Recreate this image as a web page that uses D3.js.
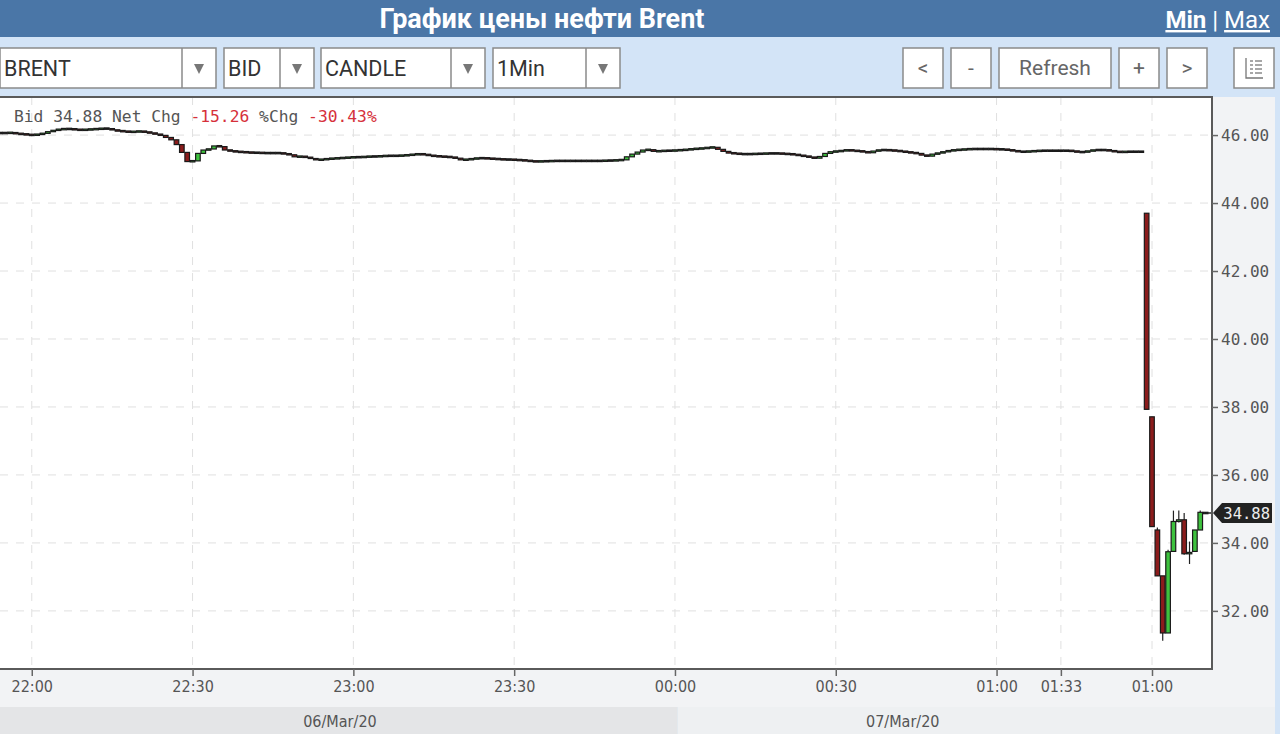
<!DOCTYPE html>
<html><head><meta charset="utf-8">
<script src="https://cdn.jsdelivr.net/npm/d3@7"></script>
<style>
html,body{margin:0;padding:0;overflow:hidden;background:#fff}
svg{display:block}
</style>
</head><body>
<svg id="c" width="1280" height="734"></svg>
<script>
// ---------------- DATA ----------------
const title = "График цены нефти Brent";
const symbol = "BRENT";
const priceType = "BID";
const chartType = "CANDLE";
const interval = "1Min";
const bidValue = "34.88";
const netChange = "-15.26";
const pctChange = "-30.43%";

// 1-minute closes of the session before the gap (candle index 0..213)
const sessionCloses = [
  46.06,46.06,46.07,46.04,46.03,46.01,46.00,46.02,46.05,46.10,
  46.14,46.17,46.18,46.18,46.16,46.15,46.16,46.17,46.18,46.19,
  46.19,46.15,46.12,46.11,46.09,46.10,46.11,46.09,46.06,46.03,
  45.99,45.93,45.86,45.72,45.49,45.22,45.24,45.46,45.56,45.59,
  45.68,45.66,45.56,45.53,45.51,45.50,45.49,45.48,45.48,45.47,
  45.47,45.47,45.47,45.45,45.42,45.36,45.37,45.35,45.31,45.27,
  45.28,45.30,45.31,45.32,45.33,45.34,45.35,45.35,45.36,45.37,
  45.37,45.38,45.39,45.39,45.39,45.40,45.41,45.43,45.44,45.43,
  45.40,45.38,45.37,45.36,45.35,45.32,45.27,45.28,45.30,45.32,
  45.32,45.31,45.30,45.29,45.28,45.28,45.27,45.26,45.25,45.23,
  45.22,45.23,45.23,45.24,45.24,45.24,45.24,45.24,45.24,45.24,
  45.24,45.24,45.24,45.25,45.25,45.26,45.27,45.36,45.44,45.50,
  45.56,45.57,45.52,45.53,45.54,45.54,45.55,45.56,45.57,45.59,
  45.60,45.61,45.63,45.64,45.58,45.52,45.47,45.46,45.44,45.44,
  45.44,45.45,45.45,45.46,45.46,45.46,45.45,45.44,45.43,45.40,
  45.38,45.35,45.32,45.37,45.46,45.51,45.52,45.54,45.56,45.54,
  45.53,45.51,45.48,45.53,45.56,45.56,45.55,45.54,45.52,45.50,
  45.48,45.46,45.41,45.38,45.44,45.47,45.51,45.54,45.56,45.57,
  45.58,45.59,45.59,45.59,45.59,45.59,45.58,45.58,45.56,45.54,
  45.51,45.51,45.52,45.53,45.54,45.54,45.54,45.54,45.54,45.54,
  45.53,45.50,45.50,45.53,45.56,45.56,45.56,45.54,45.51,45.50,
  45.51,45.51,45.51,45.51
];

// candles after the gap (index 214..225)
const gapOpen  = [43.70,37.71,34.38,33.03,31.35,33.75,34.63,34.68,33.68,33.75,34.38,34.88];
const gapHigh  = [43.70,37.71,34.45,33.03,33.80,34.95,34.95,34.88,34.04,34.38,34.95,34.90];
const gapLow   = [37.93,34.48,33.03,31.12,31.35,33.75,34.60,33.65,33.38,33.75,34.38,34.86];
const gapClose = [37.93,34.48,33.03,31.35,33.74,34.63,34.68,33.68,33.72,34.38,34.90,34.88];

const lastPrice = 34.88;

const yTickValues = [32, 34, 36, 38, 40, 42, 44, 46];
const xTickIndex  = [6, 36, 66, 96, 126, 156, 186, 198, 215];
const xTickLabels = ["22:00","22:30","23:00","23:30","00:00","00:30","01:00","01:33","01:00"];
const dateLabels  = ["06/Mar/20", "07/Mar/20"];
const dateStartIndex = [-200, 126.5];
const dateLabelIndex = [63.5, 168.5];

const buttonLabels = ["<", "-", "Refresh", "+", ">"];

// ---------------- LAYOUT ----------------
const W = 1280, H = 734;
const headerH = 37;
const plot = {left: 0, right: 1212, top: 97, bottom: 669};
const axisPanelRight = 1275;
const xAxisBottom = 707;

const svg = d3.select("#c");

// background pieces
svg.append("rect").attr("x",0).attr("y",0).attr("width",W).attr("height",H).attr("fill","#d3e4f7");
svg.append("rect").attr("x",0).attr("y",0).attr("width",W).attr("height",headerH).attr("fill","#4a76a7");

// header title
svg.append("text").attr("x",542).attr("y",28).attr("text-anchor","middle")
  .attr("font-family","Roboto, 'Noto Sans', sans-serif").attr("font-weight","700")
  .attr("font-size",27).attr("fill","#fff").text(title);

// Min | Max
const mm = svg.append("text").attr("x",1270).attr("y",28).attr("text-anchor","end")
  .attr("font-family","Roboto, 'Noto Sans', sans-serif").attr("font-size",24).attr("fill","#fff");
mm.append("tspan").attr("font-weight","700").attr("text-decoration","underline").text("Min");
mm.append("tspan").attr("dx",6).text("|");
mm.append("tspan").attr("dx",6).attr("text-decoration","underline").text("Max");

// dropdowns
const dropdowns = [
  {label: symbol,    x: 0,   w: 216, div: 182},
  {label: priceType, x: 224, w: 90,  div: 280},
  {label: chartType, x: 321, w: 164, div: 451},
  {label: interval,  x: 493, w: 127, div: 586}
];
const ddG = svg.selectAll("g.dd").data(dropdowns).join("g").attr("class","dd");
ddG.append("rect").attr("x",d=>d.x).attr("y",48).attr("width",d=>d.w).attr("height",40)
  .attr("fill","#fff").attr("stroke","#8a8a8a").attr("stroke-width",1.5);
ddG.append("line").attr("x1",d=>d.div).attr("x2",d=>d.div).attr("y1",48).attr("y2",88)
  .attr("stroke","#8a8a8a").attr("stroke-width",1.5);
ddG.append("text").attr("x",d=>d.x+4).attr("y",76)
  .attr("font-family","Roboto, 'Noto Sans', sans-serif").attr("font-size",21.5).attr("fill","#333")
  .text(d=>d.label);
ddG.append("path").attr("d",d=>{const cx=(d.div+d.x+d.w)/2, cy=69; return `M${cx-5},${cy-5}L${cx+5},${cy-5}L${cx},${cy+5}Z`;})
  .attr("fill","#777");

// buttons
const btnBoxes = [
  {x: 903, w: 40}, {x: 951, w: 40}, {x: 999, w: 112}, {x: 1119, w: 40}, {x: 1167, w: 40}
];
const bG = svg.selectAll("g.btn").data(buttonLabels).join("g").attr("class","btn");
bG.append("rect").attr("x",(d,i)=>btnBoxes[i].x).attr("y",48).attr("width",(d,i)=>btnBoxes[i].w).attr("height",40)
  .attr("fill","#fff").attr("stroke","#8a8a8a").attr("stroke-width",1.5);
bG.append("text").attr("x",(d,i)=>btnBoxes[i].x+btnBoxes[i].w/2).attr("y",75).attr("text-anchor","middle")
  .attr("font-family","Roboto, 'Noto Sans', sans-serif").attr("font-size",21).attr("fill","#666")
  .text(d=>d);

// icon button
svg.append("rect").attr("x",1234).attr("y",48).attr("width",40).attr("height",40)
  .attr("fill","#fff").attr("stroke","#8a8a8a").attr("stroke-width",1.5);
const ic = svg.append("g").attr("stroke","#777").attr("stroke-width",1.3).attr("fill","none");
ic.append("path").attr("d","M1246,58V78H1263");
[61,65,69,73].forEach(yy=>{
  ic.append("line").attr("x1",1250).attr("x2",1253).attr("y1",yy).attr("y2",yy);
  ic.append("line").attr("x1",1255).attr("x2",1262).attr("y1",yy).attr("y2",yy);
});

// axis panel backgrounds
svg.append("rect").attr("x",0).attr("y",plot.top).attr("width",axisPanelRight).attr("height",xAxisBottom-plot.top).attr("fill","#f2f3f5");
svg.append("rect").attr("x",plot.left).attr("y",plot.top).attr("width",plot.right-plot.left).attr("height",plot.bottom-plot.top).attr("fill","#fff");

// scales
const x = d3.scaleLinear().domain([0, 225]).range([-0.4, 1205.6]);
const y = d3.scaleLinear().domain([30.29, 47.12]).range([plot.bottom, plot.top]);

// date bar
const dateBars = dateLabels.map((d,i)=>({
  label: d,
  x0: Math.max(0, x(dateStartIndex[i])),
  x1: i+1 < dateLabels.length ? x(dateStartIndex[i+1]) : axisPanelRight,
  cx: x(dateLabelIndex[i])
}));
svg.selectAll("rect.db").data(dateBars).join("rect").attr("class","db")
  .attr("x",d=>d.x0).attr("y",xAxisBottom).attr("width",d=>d.x1-d.x0).attr("height",H-xAxisBottom)
  .attr("fill",(d,i)=> i===0 ? "#e4e5e7" : "#eef0f2");
svg.selectAll("text.db").data(dateBars).join("text").attr("class","db")
  .attr("x",d=>d.cx).attr("y",727).attr("text-anchor","middle")
  .attr("font-family","'DejaVu Sans Condensed', 'DejaVu Sans', sans-serif").attr("font-stretch","condensed")
  .attr("font-size",16).attr("fill","#555").text(d=>d.label);

// clip
svg.append("clipPath").attr("id","pc").append("rect")
  .attr("x",plot.left).attr("y",plot.top).attr("width",plot.right-plot.left).attr("height",plot.bottom-plot.top);
const pg = svg.append("g").attr("clip-path","url(#pc)");

// grid
pg.selectAll("line.hg").data(yTickValues).join("line").attr("class","hg")
  .attr("x1",plot.left).attr("x2",plot.right).attr("y1",d=>y(d)).attr("y2",d=>y(d))
  .attr("stroke","#e0e0e0").attr("stroke-dasharray","8,8");
pg.selectAll("line.vg").data(xTickIndex).join("line").attr("class","vg")
  .attr("x1",d=>x(d)).attr("x2",d=>x(d)).attr("y1",plot.top).attr("y2",plot.bottom)
  .attr("stroke","#e0e0e0").attr("stroke-dasharray","8,8");

// candles
const candles = [];
sessionCloses.forEach((c,i)=>{
  const o = i===0 ? c : sessionCloses[i-1];
  candles.push({i, o, c, h: Math.max(o,c), l: Math.min(o,c)});
});
gapClose.forEach((c,k)=>{
  candles.push({i: sessionCloses.length + k, o: gapOpen[k], c, h: gapHigh[k], l: gapLow[k]});
});

const bw = 4.6;
const cg = pg.append("g");
cg.selectAll("line.wick").data(candles).join("line").attr("class","wick")
  .attr("x1",d=>x(d.i)).attr("x2",d=>x(d.i)).attr("y1",d=>y(d.h)).attr("y2",d=>y(d.l))
  .attr("stroke","#222").attr("stroke-width",1.2);
cg.selectAll("rect.body").data(candles).join("rect").attr("class","body")
  .attr("x",d=>x(d.i)-bw/2).attr("width",bw)
  .attr("y",d=>{const h=Math.abs(y(d.o)-y(d.c)); return y(Math.max(d.o,d.c)) - (h<1.4 ? (1.4-h)/2 : 0);})
  .attr("height",d=>Math.max(1.4, Math.abs(y(d.o)-y(d.c))))
  .attr("fill",d=> d.c > d.o ? "#3ec23e" : (d.c < d.o ? "#8b1c1c" : "#222"))
  .attr("stroke","#1a1a1a").attr("stroke-width",1.2);

// last price marker dash
pg.append("line").attr("x1",x(225)).attr("x2",x(225)+6).attr("y1",y(lastPrice)).attr("y2",y(lastPrice))
  .attr("stroke","#222").attr("stroke-width",1.5);

// plot border (top, right, bottom)
svg.append("path").attr("d",`M${plot.left},${plot.top}H${plot.right}V${plot.bottom}H${plot.left}`)
  .attr("fill","none").attr("stroke","#5a5a5a").attr("stroke-width",2);

// y axis
const yAxis = d3.axisRight(y).tickValues(yTickValues).tickFormat(d3.format(".2f")).tickSize(6).tickPadding(3);
const yg = svg.append("g").attr("transform",`translate(${plot.right},0)`).call(yAxis);
yg.select(".domain").remove();
yg.selectAll(".tick line").attr("stroke","#666").attr("stroke-width",1.5);
yg.selectAll(".tick text").attr("font-family","'DejaVu Sans Mono', monospace").attr("font-size",16).attr("fill","#555");

// x axis
const xAxis = d3.axisBottom(x).tickValues(xTickIndex).tickFormat((d,i)=>xTickLabels[i]).tickSize(7).tickPadding(5);
const xg = svg.append("g").attr("transform",`translate(0,${plot.bottom})`).call(xAxis);
xg.select(".domain").remove();
xg.selectAll(".tick line").attr("stroke","#666").attr("stroke-width",1.5);
xg.selectAll(".tick text").attr("font-family","'DejaVu Sans Condensed', 'DejaVu Sans', sans-serif")
  .attr("font-stretch","condensed").attr("font-size",16).attr("fill","#555");

// price flag
const py = y(lastPrice);
svg.append("path").attr("d",`M${plot.right+1},${py}L${plot.right+10},${py-10}H1272V${py+10}H${plot.right+10}Z`)
  .attr("fill","#222");
svg.append("text").attr("x",1270).attr("y",py+5.5).attr("text-anchor","end")
  .attr("font-family","'DejaVu Sans Mono', monospace").attr("font-size",15.5).attr("fill","#eee")
  .text(d3.format(".2f")(lastPrice));

// info line
const info = svg.append("text").attr("x",14).attr("y",122)
  .attr("font-family","'DejaVu Sans Mono', monospace").attr("font-size",16.3).attr("fill","#555");
info.append("tspan").text(`Bid ${bidValue} Net Chg `);
info.append("tspan").attr("fill","#d6303a").text(netChange);
info.append("tspan").text(" %Chg ");
info.append("tspan").attr("fill","#d6303a").text(pctChange);
</script>
</body></html>
